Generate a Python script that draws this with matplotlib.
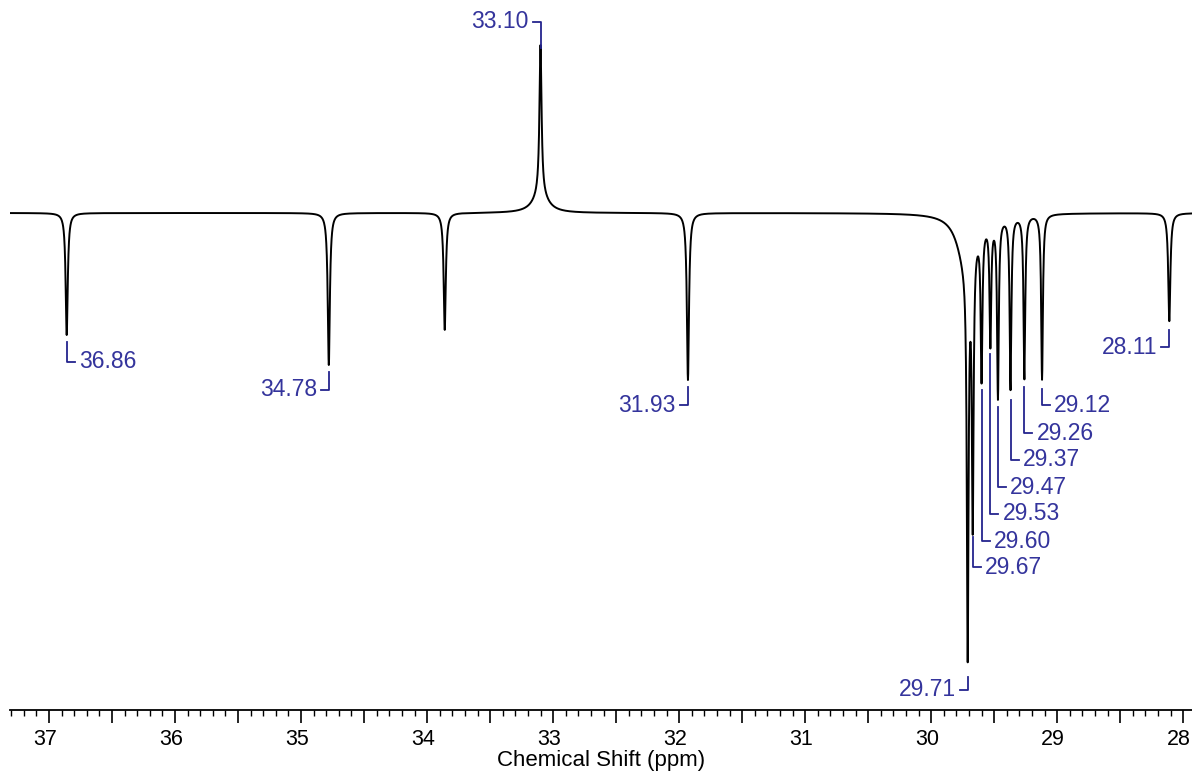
import numpy as np
import matplotlib
matplotlib.use("Agg")
import matplotlib.pyplot as plt
import matplotlib.transforms as mtransforms
from matplotlib.ticker import MultipleLocator, FuncFormatter

plt.rcParams['font.family'] = ['Liberation Sans', 'DejaVu Sans']

# peaks: position (ppm), intensity (baseline = 0), half width (ppm)
peak_ppm = [36.86, 34.78, 33.86, 33.10, 33.10, 31.93,
            29.73, 29.71, 29.67, 29.60, 29.53, 29.47, 29.37, 29.26, 29.12, 28.11]
peak_int = [-122, -152, -117, 150, 18, -167,
            -45, -395, -275, -150, -122, -178, -172, -163, -165, -108]
peak_hw = [0.010, 0.010, 0.010, 0.010, 0.07, 0.010,
           0.08, 0.008, 0.008, 0.008, 0.008, 0.008, 0.008, 0.008, 0.008, 0.010]

# labelled peaks, label text level and side of the bracket
label_ppm = [33.10, 36.86, 34.78, 31.93, 29.71, 28.11,
             29.12, 29.26, 29.37, 29.47, 29.53, 29.60, 29.67]
label_tip = [168, -122, -152, -167, -457, -110,
             -169, -167, -180, -187, -134, -170, -317]
label_lvl = [191, -149, -177, -192, -477, -134,
             -192, -220, -247, -274, -301, -328, -354]
label_side = ['left', 'right', 'left', 'left', 'left', 'left',
              'right', 'right', 'right', 'right', 'right', 'right', 'right']

ppm = np.arange(27.90, 37.35, 0.002)
spec = np.zeros_like(ppm)
for p, h, w in zip(peak_ppm, peak_int, peak_hw):
    spec += h / (1 + ((ppm - p) / w) ** 2)

fig = plt.figure(figsize=(11.92, 7.74), dpi=100)
ax = fig.add_axes([10 / 1192, 64 / 774, 1182 / 1192, 710 / 774])
ax.plot(ppm, spec, color='black', lw=1.4)

blue_txt = '#34349c'
blue_ln = '#24248e'
px = 1 / 126.0  # ppm per pixel (axis runs high -> low ppm)
for x, tip, lvl, side in zip(label_ppm, label_tip, label_lvl, label_side):
    if tip > 0:
        top = tip - 3
    else:
        top = tip - 7
    if side == 'right':
        ax.plot([x, x, x - 8 * px], [top, lvl, lvl], color=blue_ln, lw=1.3)
        ax.text(x - 12 * px, lvl, '%.2f' % x, color=blue_txt, fontsize=16.5,
                ha='left', va='center')
    else:
        ax.plot([x, x, x + 8 * px], [top, lvl, lvl], color=blue_ln, lw=1.3)
        ax.text(x + 12 * px, lvl, '%.2f' % x, color=blue_txt, fontsize=16.5,
                ha='right', va='center')

ax.set_xlim(37.31, 27.93)
ax.set_ylim(-497, 213)
for s in ['top', 'left', 'right']:
    ax.spines[s].set_visible(False)
ax.spines['bottom'].set_linewidth(1.3)
ax.set_yticks([])
ax.xaxis.set_major_locator(MultipleLocator(0.5))
ax.xaxis.set_minor_locator(MultipleLocator(0.1))
ax.xaxis.set_major_formatter(FuncFormatter(
    lambda v, pos: '%d' % round(v) if abs(v - round(v)) < 1e-6 else ''))
ax.tick_params(axis='x', which='major', length=9, width=1.2, pad=5, labelsize=15.5)
ax.tick_params(axis='x', which='minor', length=4, width=1.0)
shift = mtransforms.ScaledTranslation(-4 / 100, 0, fig.dpi_scale_trans)
for lab in ax.get_xticklabels():
    lab.set_transform(lab.get_transform() + shift)
ax.set_xlabel('Chemical Shift (ppm)', fontsize=16, labelpad=0)

fig.savefig('out.png', dpi=100)
